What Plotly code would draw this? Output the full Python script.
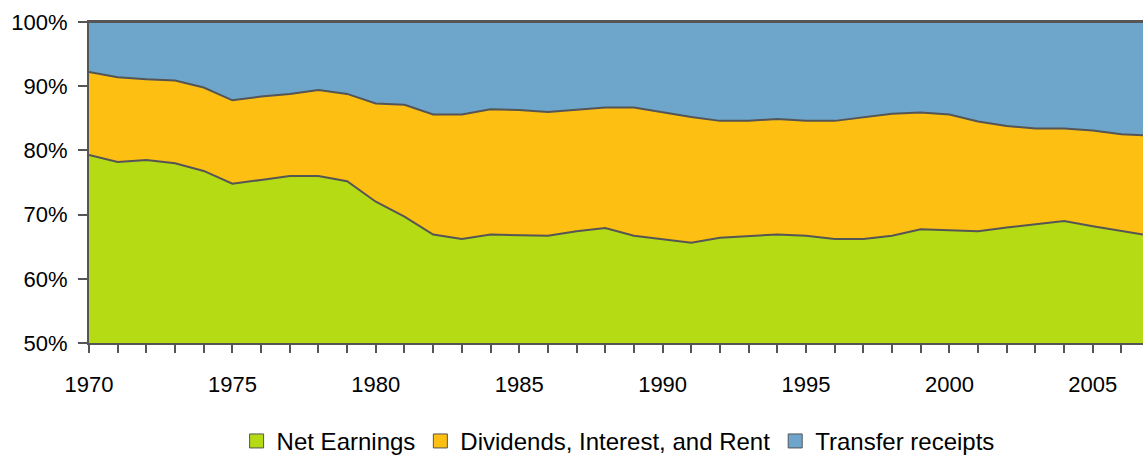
import plotly.graph_objects as go

years = list(range(1970, 2008))
net_earnings = [79.3, 78.2, 78.5, 78.0, 76.8, 74.8, 75.4, 76.0, 76.0, 75.2,
                72.0, 69.7, 66.9, 66.2, 66.9, 66.8, 66.7, 67.4, 67.9, 66.7,
                66.2, 65.6, 66.4, 66.7, 66.9, 66.7, 66.2, 66.2, 66.7, 67.7,
                67.6, 67.4, 68.0, 68.5, 69.0, 68.2, 67.5, 66.7]
dividends = [12.9, 13.2, 12.6, 12.9, 13.0, 13.0, 13.0, 12.8, 13.4, 13.6,
             15.3, 17.4, 18.7, 19.4, 19.5, 19.5, 19.3, 19.0, 18.8, 20.0,
             19.7, 19.6, 18.2, 17.9, 18.0, 17.9, 18.4, 19.0, 19.0, 18.2,
             18.0, 17.1, 15.8, 14.9, 14.4, 14.9, 15.0, 15.6]
transfers = [7.8, 8.6, 8.9, 9.1, 10.2, 12.2, 11.6, 11.2, 10.6, 11.2,
             12.7, 12.9, 14.4, 14.4, 13.6, 13.7, 14.0, 13.6, 13.3, 13.3,
             14.1, 14.8, 15.4, 15.4, 15.1, 15.4, 15.4, 14.8, 14.3, 14.1,
             14.4, 15.5, 16.2, 16.6, 16.6, 16.9, 17.5, 17.7]

names = ["Net Earnings", "Dividends, Interest, and Rent", "Transfer receipts"]
colors = ["#B4DB14", "#FDBF11", "#6EA5CB"]
series = [net_earnings, dividends, transfers]
line_color = "#555555"
font_family = "Liberation Sans, Arial, sans-serif"

fig = go.Figure()
for name, vals, col in zip(names, series, colors):
    fig.add_trace(go.Scatter(
        x=years, y=vals, name=name, stackgroup="one", groupnorm="percent",
        mode="lines", line=dict(color=line_color, width=2),
        fillcolor=col, showlegend=False, hoverinfo="x+y+name"))

for name, col in zip(names, colors):
    fig.add_trace(go.Scatter(
        x=[None], y=[None], name=name, mode="markers",
        marker=dict(symbol="square", size=14, color=col,
                    line=dict(color=line_color, width=1)),
        showlegend=True))

fig.update_layout(
    width=1143, height=455,
    margin=dict(l=89, r=0, t=22, b=112),
    paper_bgcolor="white", plot_bgcolor="white",
    font=dict(family=font_family, size=22, color="#000000"),
    showlegend=True,
    legend=dict(orientation="h", x=0.502, xanchor="center",
                yref="container", y=0.03, yanchor="middle",
                font=dict(size=24), traceorder="normal",
                itemwidth=30, tracegroupgap=0, bgcolor="rgba(0,0,0,0)"),
    xaxis=dict(range=[1970, 2006.75], dtick=5, tick0=1970,
               showgrid=False, zeroline=False,
               showline=True, linecolor=line_color, linewidth=2, mirror=True,
               ticks="outside", ticklen=8, tickwidth=1.5, tickcolor=line_color,
               ticklabelstandoff=13,
               minor=dict(dtick=1, ticks="outside", ticklen=8,
                          tickwidth=1.5, tickcolor=line_color)),
    yaxis=dict(range=[50, 100], dtick=10, ticksuffix="%",
               showgrid=False, zeroline=False,
               showline=True, linecolor=line_color, linewidth=2,
               ticks="outside", ticklen=9, tickwidth=1.5, tickcolor=line_color,
               ticklabelstandoff=6),
)

fig.write_html("out.html",
               config={"displayModeBar": False},
               post_script="document.body.style.margin='0';"
                           "document.body.style.overflow='hidden';")
